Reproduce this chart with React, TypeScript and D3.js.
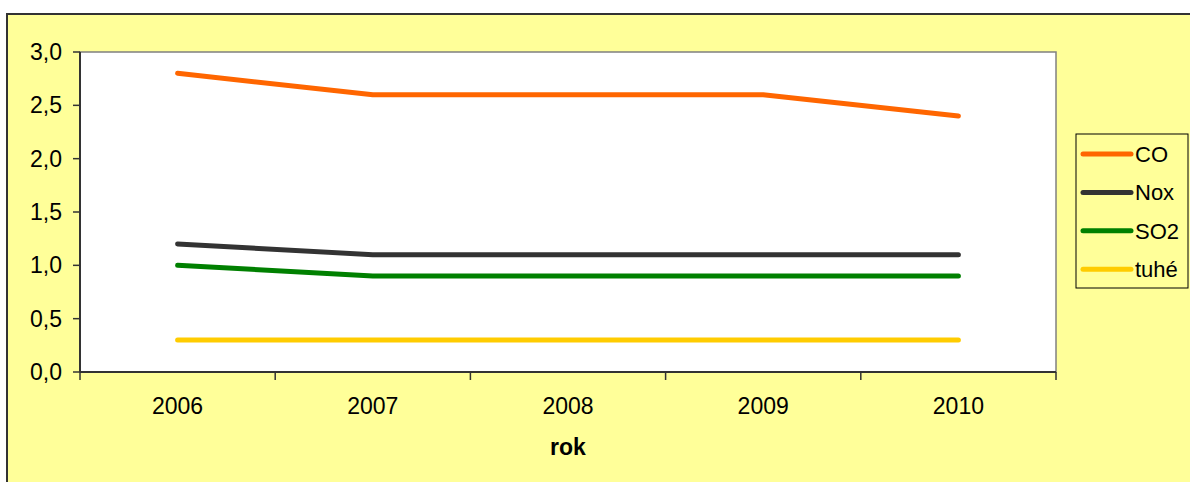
import { useEffect, useRef } from 'react';
import * as d3 from 'd3';

const years = ['2006', '2007', '2008', '2009', '2010'];
const coValues = [2.8, 2.6, 2.6, 2.6, 2.4];
const noxValues = [1.2, 1.1, 1.1, 1.1, 1.1];
const so2Values = [1.0, 0.9, 0.9, 0.9, 0.9];
const tuheValues = [0.3, 0.3, 0.3, 0.3, 0.3];
const yTicks = [0, 0.5, 1, 1.5, 2, 2.5, 3];
const seriesNames = ['CO', 'Nox', 'SO2', 'tuhé'];
const seriesColors = ['#ff6600', '#333333', '#008000', '#ffcc00'];

const WIDTH = 1190;
const HEIGHT = 482;
const FONT = 'Arial, "Liberation Sans", sans-serif';

export default function App() {
  const svgRef = useRef<SVGSVGElement>(null);

  useEffect(() => {
    if (!svgRef.current) return;
    const svg = d3.select(svgRef.current);
    svg.selectAll('*').remove();

    const plot = { left: 80, top: 52, right: 1056, bottom: 372 };

    // outer chart area (runs off the right and bottom of the image)
    svg
      .append('rect')
      .attr('x', 7)
      .attr('y', 14)
      .attr('width', WIDTH + 20)
      .attr('height', HEIGHT + 20)
      .style('fill', '#ffff99')
      .style('stroke', '#333')
      .style('stroke-width', 2);

    const x = d3.scaleBand<string>().domain(years).range([plot.left, plot.right]);
    const y = d3.scaleLinear().domain([0, 3]).range([plot.bottom, plot.top]);
    const fmt = d3
      .formatLocale({ decimal: ',', thousands: ' ', grouping: [3], currency: ['', ''] })
      .format('.1f');

    // plot area
    svg
      .append('rect')
      .attr('x', plot.left)
      .attr('y', plot.top)
      .attr('width', plot.right - plot.left)
      .attr('height', plot.bottom - plot.top)
      .style('fill', '#fff')
      .style('stroke', '#808080')
      .style('stroke-width', 1.5);

    // y axis
    const yAxis = svg.append('g');
    yAxis
      .append('line')
      .attr('x1', plot.left)
      .attr('x2', plot.left)
      .attr('y1', plot.top)
      .attr('y2', plot.bottom)
      .style('stroke', '#333')
      .style('stroke-width', 2);
    const yt = yAxis.selectAll('.yt').data(yTicks).enter().append('g');
    yt.append('line')
      .attr('x1', plot.left - 7)
      .attr('x2', plot.left)
      .attr('y1', (d) => y(d))
      .attr('y2', (d) => y(d))
      .style('stroke', '#333')
      .style('stroke-width', 1.5);
    yt.append('text')
      .attr('x', plot.left - 18)
      .attr('y', (d) => y(d))
      .attr('dy', '0.35em')
      .style('text-anchor', 'end')
      .style('font-family', FONT)
      .style('font-size', '23px')
      .style('fill', '#000')
      .text((d) => fmt(d));

    // x axis
    const xAxis = svg.append('g');
    xAxis
      .append('line')
      .attr('x1', plot.left)
      .attr('x2', plot.right)
      .attr('y1', plot.bottom)
      .attr('y2', plot.bottom)
      .style('stroke', '#333')
      .style('stroke-width', 2);
    const bounds = [...years.map((d) => x(d) as number), x.range()[1]];
    xAxis
      .selectAll('.xt')
      .data(bounds)
      .enter()
      .append('line')
      .attr('x1', (d) => d)
      .attr('x2', (d) => d)
      .attr('y1', plot.bottom)
      .attr('y2', plot.bottom + 8)
      .style('stroke', '#333')
      .style('stroke-width', 1.5);
    xAxis
      .selectAll('.xl')
      .data(years)
      .enter()
      .append('text')
      .attr('x', (d) => (x(d) as number) + x.bandwidth() / 2)
      .attr('y', plot.bottom + 42)
      .style('text-anchor', 'middle')
      .style('font-family', FONT)
      .style('font-size', '23px')
      .style('fill', '#000')
      .text((d) => d);

    svg
      .append('text')
      .attr('x', (plot.left + plot.right) / 2)
      .attr('y', 455)
      .style('text-anchor', 'middle')
      .style('font-family', FONT)
      .style('font-size', '23px')
      .style('font-weight', 'bold')
      .style('fill', '#000')
      .text('rok');

    // series lines
    const allSeries = [coValues, noxValues, so2Values, tuheValues];
    const line = d3
      .line<number>()
      .x((_, i) => (x(years[i]) as number) + x.bandwidth() / 2)
      .y((d) => y(d));

    // draw bottom-up so CO stays on top
    [...allSeries.keys()].reverse().forEach((k) => {
      svg
        .append('path')
        .attr('d', line(allSeries[k]))
        .style('fill', 'none')
        .style('stroke', seriesColors[k])
        .style('stroke-width', 5)
        .style('stroke-linecap', 'round')
        .style('stroke-linejoin', 'round');
    });

    // legend
    const legend = svg.append('g').attr('transform', 'translate(1076, 134)');
    legend
      .append('rect')
      .attr('width', 112)
      .attr('height', 154)
      .style('fill', '#ffff99')
      .style('stroke', '#000')
      .style('stroke-width', 1);
    const items = legend
      .selectAll('.li')
      .data(seriesNames)
      .enter()
      .append('g')
      .attr('transform', (_, i) => `translate(0, ${20 + i * 38.4})`);
    items
      .append('line')
      .attr('x1', 7)
      .attr('x2', 55)
      .style('stroke', (_, i) => seriesColors[i])
      .style('stroke-width', 5)
      .style('stroke-linecap', 'round');
    items
      .append('text')
      .attr('x', 59)
      .attr('dy', '0.35em')
      .style('font-family', FONT)
      .style('font-size', '22px')
      .style('fill', '#000')
      .text((d) => d);
  }, []);

  return (
    <div style={{ position: 'absolute', left: 0, top: 0, width: WIDTH, height: HEIGHT, overflow: 'hidden', background: '#fff' }}>
      <svg ref={svgRef} width={WIDTH} height={HEIGHT} />
    </div>
  );
}
